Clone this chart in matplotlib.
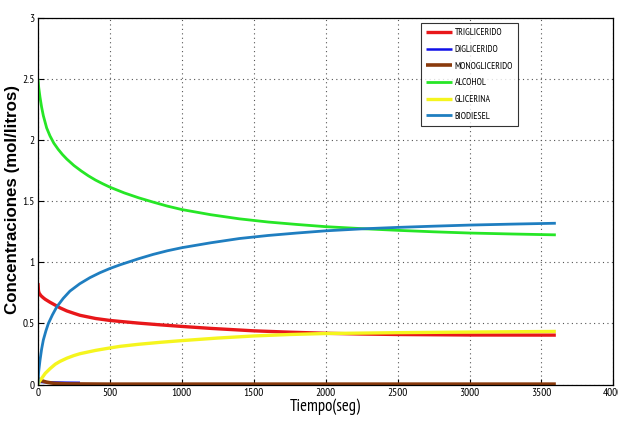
import matplotlib
matplotlib.use("Agg")
import matplotlib.pyplot as plt
from matplotlib import font_manager as fm

# ---- data ----
t_tg = [0, 3, 7, 20, 35, 50, 83, 120, 153, 200, 250, 292, 400, 500, 570, 700, 850,
        1000, 1200, 1500, 1750, 2000, 2250, 2500, 3000, 3600]
tg = [0.83, 0.77, 0.75, 0.728, 0.712, 0.698, 0.674, 0.65, 0.628, 0.603, 0.583, 0.567, 0.541, 0.525, 0.517,
      0.503, 0.489, 0.476, 0.46, 0.44, 0.429, 0.42, 0.414, 0.41, 0.406, 0.405]

t_dg = [0, 5, 15, 40, 100, 200, 292]
dg = [0.04, 0.03, 0.022, 0.02, 0.018, 0.016, 0.015]

t_mg = [0, 10, 30, 60, 90, 118, 200, 500, 1000, 2000, 3000, 3600]
mg = [0.05, 0.04, 0.03, 0.02, 0.014, 0.01, 0.006, 0.004, 0.004, 0.004, 0.004, 0.004]

t_al = [0, 5, 14, 25, 37, 60, 83, 110, 140, 170, 200, 250, 300, 350, 400, 450, 500, 600, 700,
        800, 900, 1000, 1200, 1400, 1600, 1800, 2000, 2250, 2500, 2750, 3000, 3300, 3600]
al = [2.5, 2.43, 2.35, 2.27, 2.2, 2.1, 2.035, 1.975, 1.925, 1.882, 1.845, 1.792, 1.748, 1.708, 1.673,
      1.643, 1.615, 1.568, 1.528, 1.493, 1.46, 1.432, 1.39, 1.356, 1.33, 1.31, 1.292, 1.276, 1.262,
      1.25, 1.24, 1.232, 1.225]

t_gl = [0, 5, 15, 26, 50, 83, 120, 153, 200, 250, 292, 400, 500, 570, 700, 850, 1000, 1250,
        1500, 1750, 2000, 2500, 3000, 3600]
gl = [0.0, 0.015, 0.035, 0.052, 0.092, 0.13, 0.167, 0.19, 0.216, 0.238, 0.253, 0.28, 0.30, 0.313,
      0.33, 0.346, 0.36, 0.381, 0.398, 0.41, 0.418, 0.425, 0.43, 0.435]

t_bd = [0, 4, 14, 25, 37, 55, 72, 100, 130, 175, 222, 290, 361, 430, 500, 570, 700, 800, 900,
        1000, 1200, 1400, 1600, 1800, 2000, 2250, 2500, 2750, 3000, 3300, 3600]
bd = [0.0, 0.1, 0.2, 0.29, 0.365, 0.44, 0.50, 0.57, 0.635, 0.705, 0.765, 0.825, 0.875, 0.915, 0.95,
      0.98, 1.03, 1.065, 1.095, 1.12, 1.16, 1.195, 1.22, 1.24, 1.258, 1.274, 1.286, 1.296, 1.305,
      1.313, 1.32]

labels = ["TRIGLICERIDO", "DIGLICERIDO", "MONOGLICERIDO", "ALCOHOL", "GLICERINA", "BIODIESEL"]
colors = ["#e8171a", "#1010e8", "#8a3a0c", "#26e626", "#f5f51e", "#1f7ec0"]

xticks = [0, 500, 1000, 1500, 2000, 2500, 3000, 3500, 4000]
yticks = [0, 0.5, 1, 1.5, 2, 2.5, 3]
ytick_labels = ["0", "0.5", "1", "1.5", "2", "2.5", "3"]

available = set(f.name for f in fm.fontManager.ttflist)
narrow_font = next((n for n in ["Liberation Sans Narrow", "Arial Narrow", "PT Sans Narrow",
                                "Roboto Condensed", "Archivo Narrow", "Asap Condensed"]
                    if n in available), "DejaVu Sans")
narrow = [narrow_font, "DejaVu Sans"]

fig = plt.figure(figsize=(6.18, 4.25), dpi=100)
ax = fig.add_axes([0.0615, 0.095, 0.931, 0.863])

series = [(t_tg, tg), (t_dg, dg), (t_mg, mg), (t_al, al), (t_gl, gl), (t_bd, bd)]
widths = [2.4, 1.8, 2.6, 2.0, 2.4, 2.0]
for (t, y), lab, c, lw in zip(series, labels, colors, widths):
    ax.plot(t, y, color=c, lw=lw, label=lab, solid_capstyle="butt", solid_joinstyle="round")

ax.set_xlim(0, 4000)
ax.set_ylim(0, 3)
ax.set_xticks(xticks)
ax.set_xticklabels([str(v) for v in xticks], family=narrow, fontsize=8.2, color="#222222")
ax.set_yticks(yticks)
ax.set_yticklabels(ytick_labels, family=narrow, fontsize=8.2, color="#222222")
ax.tick_params(direction="in", length=4, width=0.8, colors="black", pad=2.5)
ax.grid(True, linestyle=(0, (1, 3)), color="#555555", lw=0.8)
for s in ax.spines.values():
    s.set_color("black")
    s.set_linewidth(0.9)

ax.set_xlabel("Tiempo(seg)", family=narrow, fontsize=12, labelpad=0)
ax.set_ylabel("Concentraciones (mol/litros)", fontweight="bold", fontsize=12.2,
              family=["Liberation Sans", "DejaVu Sans"])
ax.yaxis.set_label_coords(-0.032, 0.505)

leg = ax.legend(loc="upper left", bbox_to_anchor=(0.666, 0.986),
                prop={"family": narrow, "size": 6.9}, frameon=True, fancybox=False,
                edgecolor="black", handlelength=2.7, handletextpad=0.25,
                labelspacing=0.8, borderpad=0.55, borderaxespad=0)
leg.get_frame().set_linewidth(0.8)

fig.savefig("out.png", dpi=100)
